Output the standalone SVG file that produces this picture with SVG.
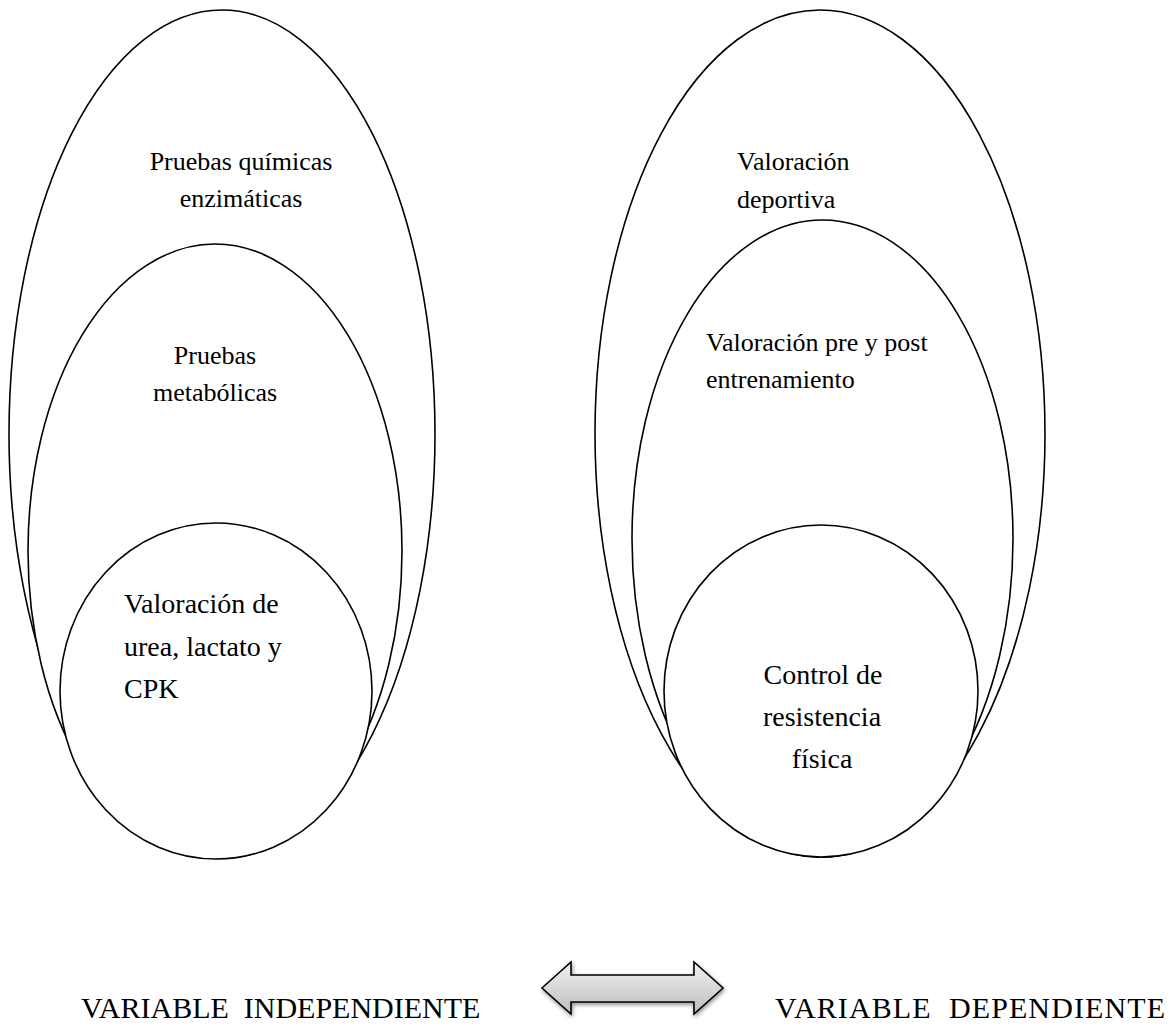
<svg xmlns="http://www.w3.org/2000/svg" width="1171" height="1030" viewBox="0 0 1171 1030">
<defs>
<style>
.sh{fill:#fff;stroke:#000;stroke-width:1.6}
.t{font-family:"Liberation Serif","Times New Roman",serif;fill:#000}
.m{font-size:26px}
.l{font-size:28px}
.b{font-size:30px}
</style>
<linearGradient id="ag" x1="0" y1="0" x2="0" y2="1">
<stop offset="0" stop-color="#f2f2f2"/>
<stop offset="1" stop-color="#bdbdbd"/>
</linearGradient>
<filter id="ds" x="-10%" y="-20%" width="130%" height="150%">
<feGaussianBlur in="SourceAlpha" stdDeviation="2"/>
<feOffset dx="1" dy="2"/>
<feComponentTransfer><feFuncA type="linear" slope="0.45"/></feComponentTransfer>
<feMerge><feMergeNode/><feMergeNode in="SourceGraphic"/></feMerge>
</filter>
</defs>
<rect width="1171" height="1030" fill="#fff"/>
<g id="left-outer">
<ellipse class="sh" cx="222" cy="434" rx="213" ry="424"/>
<text class="t m" x="241" y="170" text-anchor="middle">Pruebas químicas</text>
<text class="t m" x="241" y="207" text-anchor="middle">enzimáticas</text>
</g>
<g id="left-middle">
<ellipse class="sh" cx="215" cy="551" rx="187" ry="307"/>
<text class="t m" x="215" y="364" text-anchor="middle">Pruebas</text>
<text class="t m" x="215" y="401" text-anchor="middle">metabólicas</text>
</g>
<g id="left-inner">
<ellipse class="sh" cx="216" cy="691" rx="156" ry="168"/>
<text class="t l" x="124" y="613">Valoración de</text>
<text class="t l" x="124" y="656">urea, lactato y</text>
<text class="t l" x="124" y="698">CPK</text>
</g>
<g id="right-outer">
<ellipse class="sh" cx="820" cy="433.5" rx="225" ry="423.5"/>
<text class="t m" x="737" y="170">Valoración</text>
<text class="t m" x="737" y="208">deportiva</text>
</g>
<g id="right-middle">
<ellipse class="sh" cx="822.5" cy="538.5" rx="190.5" ry="318.5"/>
<text class="t m" x="706" y="351">Valoración pre y post</text>
<text class="t m" x="706" y="388">entrenamiento</text>
</g>
<g id="right-inner">
<ellipse class="sh" cx="821" cy="691" rx="157" ry="166"/>
<text class="t l" x="823" y="684" text-anchor="middle">Control de</text>
<text class="t l" x="822" y="726" text-anchor="middle">resistencia</text>
<text class="t l" x="822" y="768" text-anchor="middle">física</text>
</g>
<g id="var-independiente">
<text class="t b" x="81" y="1018" xml:space="preserve">VARIABLE  INDEPENDIENTE</text>
</g>
<g id="var-dependiente">
<text class="t b" x="775" y="1018" xml:space="preserve" textLength="390" lengthAdjust="spacing">VARIABLE  DEPENDIENTE</text>
</g>
<g id="connectors">
<path d="M542,988 L571,962 L571,975 L694,975 L694,962 L723,988 L694,1014 L694,1002 L571,1002 L571,1014 Z" fill="url(#ag)" stroke="#000" stroke-width="1.6" stroke-linejoin="miter" filter="url(#ds)"/>
</g>
</svg>
